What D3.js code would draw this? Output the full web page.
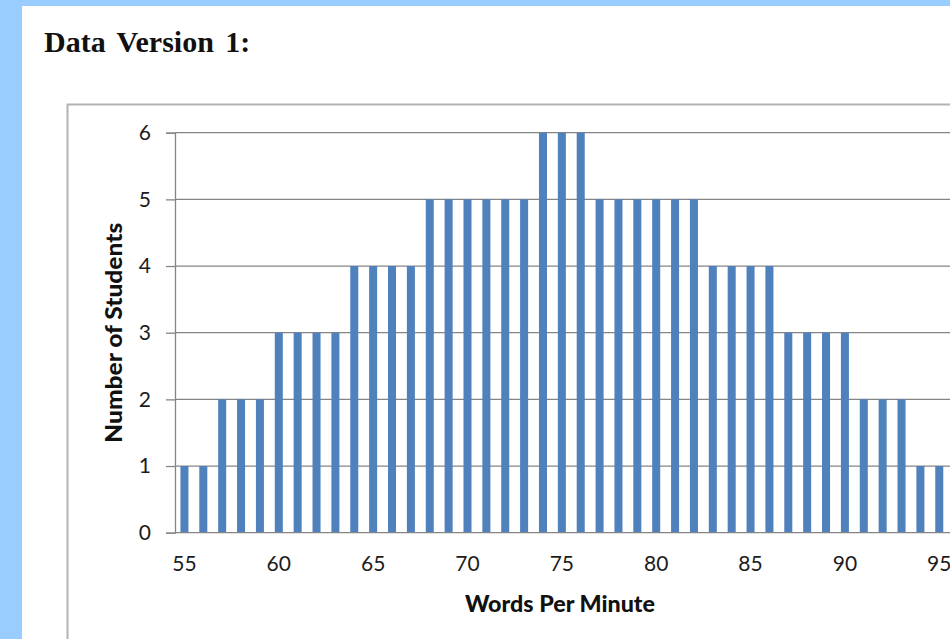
<!DOCTYPE html>
<html>
<head>
<meta charset="utf-8">
<script src="https://cdn.jsdelivr.net/npm/d3@7"></script>
<style>
  html, body { margin: 0; padding: 0; background: #99ccff; }
  svg { display: block; }
</style>
</head>
<body>
<svg id="chart" width="950" height="639"></svg>
<script>
// Words-per-minute distribution for the class
const wpm = d3.range(55, 96);
const students = [1, 1, 2, 2, 2, 3, 3, 3, 3, 4, 4, 4, 4, 5, 5, 5, 5, 5, 5, 6, 6,
                  6, 5, 5, 5, 5, 5, 5, 4, 4, 4, 4, 3, 3, 3, 3, 2, 2, 2, 1, 1];
const yTicks = [0, 1, 2, 3, 4, 5, 6];
const xTickLabels = [55, 60, 65, 70, 75, 80, 85, 90, 95];

const titleText = "Data Version 1:";
const xTitle = "Words Per Minute";
const yTitle = "Number of Students";

const svg = d3.select("#chart");

// white page inside the blue frame
svg.append("rect").attr("x", 22).attr("y", 6).attr("width", 950).attr("height", 660).attr("fill", "#ffffff");

svg.append("text")
  .attr("x", 44).attr("y", 51.5)
  .attr("font-family", "'Liberation Serif', 'Times New Roman', serif")
  .attr("font-weight", "bold")
  .attr("font-size", 30)
  .attr("word-spacing", 4)
  .attr("fill", "#111")
  .text(titleText);

// chart area border
svg.append("rect")
  .attr("x", 67.5).attr("y", 104.5).attr("width", 950).attr("height", 600)
  .attr("fill", "#ffffff").attr("stroke", "#b3b3b3").attr("stroke-width", 2);

const plot = { left: 175, right: 948.7, top: 132.7, bottom: 532.7 };

const x = d3.scaleBand().domain(wpm).range([plot.left, plot.right])
  .paddingInner(0.575).paddingOuter(0.2875);
const y = d3.scaleLinear().domain([0, 6]).range([plot.bottom, plot.top]);

const gridColor = "#858585";
const labelFont = "Lato, 'Open Sans', sans-serif";

// horizontal gridlines
svg.append("g").selectAll("line").data(yTicks.filter(d => d > 0)).join("line")
  .attr("x1", plot.left).attr("x2", 950)
  .attr("y1", d => y(d)).attr("y2", d => y(d))
  .attr("stroke", gridColor).attr("stroke-width", 1.3);

// bars
svg.append("g").selectAll("rect").data(wpm).join("rect")
  .attr("x", (d) => x(d))
  .attr("width", x.bandwidth())
  .attr("y", (d, i) => y(students[i]))
  .attr("height", (d, i) => y(0) - y(students[i]))
  .attr("fill", "#4f81bd");

// y axis
const yAxis = svg.append("g").attr("transform", `translate(${plot.left},0)`)
  .call(d3.axisLeft(y).tickValues(yTicks).tickSize(9).tickPadding(15).tickFormat(d3.format("d")));
yAxis.select(".domain").attr("stroke", gridColor).attr("stroke-width", 1.3);
yAxis.selectAll(".tick line").attr("stroke", gridColor).attr("stroke-width", 1.3);
yAxis.selectAll(".tick text")
  .attr("font-family", labelFont).attr("font-size", 21).attr("fill", "#1c1c1c");

// x axis with a label every fifth category
const xAxis = svg.append("g").attr("transform", `translate(0,${plot.bottom})`)
  .call(d3.axisBottom(x).tickValues(xTickLabels).tickSize(0).tickPadding(23));
xAxis.select(".domain").attr("stroke", gridColor).attr("stroke-width", 1.3)
  .attr("d", `M${plot.left},0H950`);
xAxis.selectAll(".tick text")
  .attr("font-family", labelFont).attr("font-size", 21).attr("fill", "#1c1c1c");

// axis titles
svg.append("text")
  .attr("x", 560).attr("y", 612)
  .attr("text-anchor", "middle")
  .attr("font-family", labelFont).attr("font-weight", "900").attr("font-size", 23)
  .attr("textLength", 190).attr("lengthAdjust", "spacingAndGlyphs")
  .attr("fill", "#111")
  .text(xTitle);

svg.append("text")
  .attr("transform", `translate(122,${(plot.top + plot.bottom) / 2}) rotate(-90)`)
  .attr("text-anchor", "middle")
  .attr("font-family", labelFont).attr("font-weight", "900").attr("font-size", 23)
  .attr("textLength", 220).attr("lengthAdjust", "spacingAndGlyphs")
  .attr("fill", "#111")
  .text(yTitle);
</script>
</body>
</html>
